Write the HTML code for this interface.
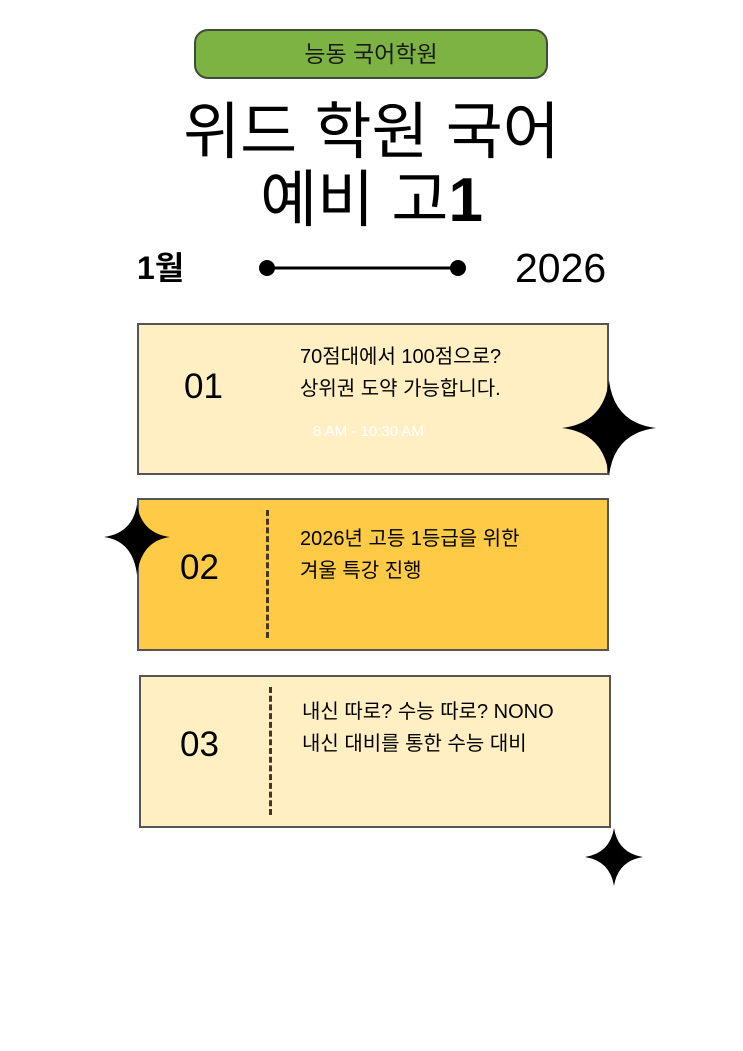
<!DOCTYPE html>
<html><head><meta charset="utf-8"><style>
body{margin:0;width:743px;height:1051px;background:#fff;position:relative;overflow:hidden;font-family:"Liberation Sans","Noto Sans CJK KR",sans-serif;color:#000}
.a{position:absolute;white-space:nowrap}
.card{position:absolute;border:2px solid #555;box-sizing:border-box}
.num{position:absolute;font-size:35px;line-height:34px}
.txt{position:absolute;font-size:20px;line-height:32px}
.dash{position:absolute;width:0;border-left:3px dashed #4a3422}
</style></head><body>
<div class="a" style="left:194px;top:29px;width:354px;height:50px;background:#7cb342;border:2px solid #3f4a3a;border-radius:14px;box-sizing:border-box;text-align:center;line-height:46px;font-size:23px;color:#1a1a1a">능동 국어학원</div>
<div class="a" style="left:0;width:743px;top:98px;text-align:center;font-size:62px;line-height:70px">위드 학원 국어</div>
<div class="a" style="left:0;width:743px;top:166px;text-align:center;font-size:62px;line-height:70px">예비 고<b>1</b></div>
<div class="a" style="left:137px;top:248px;font-size:32px;line-height:40px;font-weight:bold">1월</div>
<div class="a" style="left:515px;top:248px;font-size:41px;line-height:40px">2026</div>
<svg class="a" style="left:0;top:0" width="743" height="1051">
<line x1="267" y1="268" x2="458" y2="268" stroke="#000" stroke-width="3"/>
<circle cx="267" cy="268" r="8"/><circle cx="458" cy="268" r="8"/>
</svg>
<div class="card" style="left:137px;top:323px;width:472px;height:152px;background:#ffefc2"></div>
<div class="num" style="left:184px;top:370px">01</div>
<div class="txt" style="left:300px;top:341px">70점대에서 100점으로?<br>상위권 도약 가능합니다.</div>
<div class="a" style="left:313px;top:423px;font-size:15px;color:#fff">8 AM - 10:30 AM</div>
<div class="card" style="left:137px;top:498px;width:472px;height:153px;background:#ffcb47"></div>
<div class="dash" style="left:266px;top:510px;height:128px"></div>
<div class="num" style="left:180px;top:551px">02</div>
<div class="txt" style="left:300px;top:523px">2026년 고등 1등급을 위한<br>겨울 특강 진행</div>
<div class="card" style="left:139px;top:675px;width:472px;height:153px;background:#ffefc2"></div>
<div class="dash" style="left:269px;top:687px;height:128px"></div>
<div class="num" style="left:180px;top:728px">03</div>
<div class="txt" style="left:302px;top:696px">내신 따로? 수능 따로? NONO<br>내신 대비를 통한 수능 대비</div>
<svg class="a" style="left:0;top:0" width="743" height="1051">
<path d="M609,380 Q614,423 656,428 Q614,433 609,476 Q604,433 562,428 Q604,423 609,380Z"/>
<path d="M137,504 Q141,533 170,537 Q141,541 137,575 Q133,541 104,537 Q133,533 137,504Z"/>
<path d="M614,828 Q618,853 643,857 Q618,861 614,886 Q610,861 585,857 Q610,853 614,828Z"/>
</svg>
</body></html>
